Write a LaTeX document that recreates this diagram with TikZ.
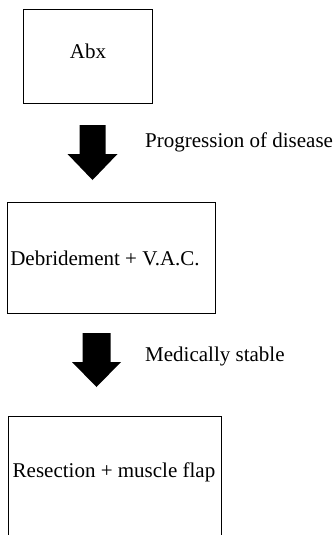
\documentclass[tikz,border=0pt]{standalone}
\usepackage{fontspec}
\setmainfont{Liberation Serif}
\begin{document}
\begin{tikzpicture}[x=1pt,y=-1pt,
  txt/.style={font=\fontsize{21}{25}\selectfont},
  box/.style={draw=black, line width=1pt, fill=white, inner sep=0pt, txt},
  lbl/.style={anchor=base west, inner sep=0pt, txt},
  blockarrow/.style={fill=black}]
\useasboundingbox (0,0) rectangle (334,535);
\fill[white] (0,0) rectangle (334,535);
% boxes
\node[box, minimum width=129pt, minimum height=93pt] (abx) at (87.5,56.5) {};
\node[txt, inner sep=0pt] (abxt) at (88,51) {Abx};
\node[box, minimum width=208pt, minimum height=111pt] (deb) at (111,257.5) {};
\node[txt, inner sep=0pt] (debt) at (105,258) {Debridement + V.A.C.};
\node[box, minimum width=213pt, minimum height=140pt] (res) at (114.5,486) {};
\node[txt, inner sep=0pt] (rest) at (114,472) {Resection + muscle flap};
% block arrows
\coordinate (a1) at (92.5,125);
\fill[blockarrow] ([shift={(-13,0)}]a1) -- ([shift={(13,0)}]a1) -- ([shift={(13,29)}]a1)
  -- ([shift={(25,29)}]a1) -- ([shift={(0,55)}]a1) -- ([shift={(-25,29)}]a1)
  -- ([shift={(-13,29)}]a1) -- cycle;
\coordinate (a2) at (96.5,333);
\fill[blockarrow] ([shift={(-14,0)}]a2) -- ([shift={(14,0)}]a2) -- ([shift={(14,29)}]a2)
  -- ([shift={(24.5,29)}]a2) -- ([shift={(0,54)}]a2) -- ([shift={(-24.5,29)}]a2)
  -- ([shift={(-14,29)}]a2) -- cycle;
% labels
\node[lbl] (l1) at (145,147) {Progression of disease};
\node[lbl] (l2) at (145,361) {Medically stable};
\end{tikzpicture}
\end{document}
